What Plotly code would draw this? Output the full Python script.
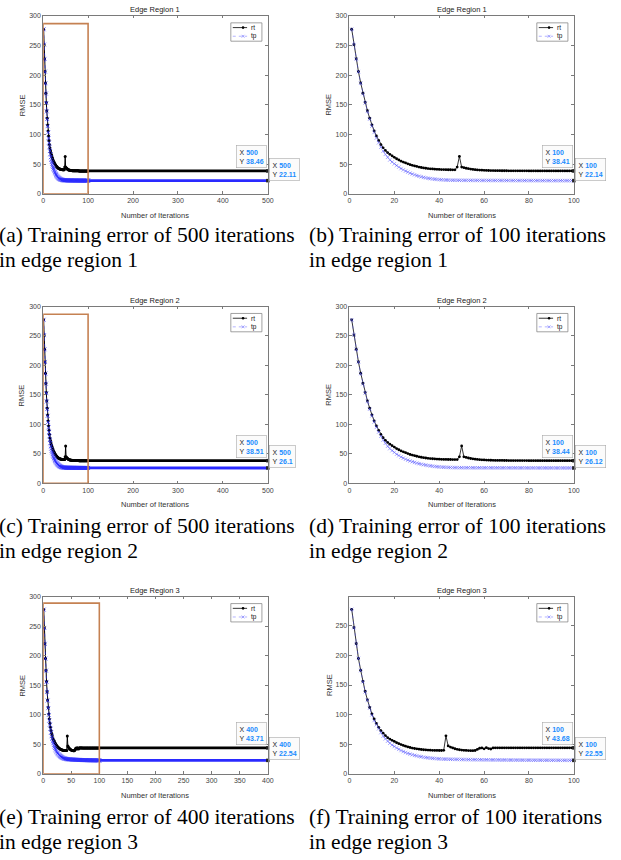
import plotly.graph_objects as go

W, H = 621, 860

# ---------------- data ----------------
iters_100 = list(range(1, 101))
tail_iters_500 = [100, 150, 200, 250, 300, 350, 400, 450, 500]
tail_iters_400 = [100, 150, 200, 250, 300, 350, 400]

rt_region1 = [277.5, 251.5, 227.5, 206.0, 187.0, 169.5, 154.0, 140.0, 127.5, 116.0,
              106.0, 97.5, 90.0, 83.0, 77.5, 73.0, 69.5, 66.5, 64.0, 61.5,
              59.0, 57.0, 55.0, 53.5, 52.0, 50.5, 49.0, 48.0, 47.0, 46.0,
              45.0, 44.3, 43.6, 43.0, 42.5, 42.1, 41.8, 41.5, 41.2, 41.0,
              40.8, 40.7, 40.6, 40.5, 40.5, 40.4, 40.4, 45.0, 63.0, 45.0,
              44.0, 43.0, 42.2, 41.6, 41.0, 40.6, 40.2, 39.9, 39.7, 39.5,
              39.3, 39.2, 39.1, 39.0, 38.95, 38.9, 38.85, 38.8, 38.78, 38.75,
              38.72, 38.7, 38.68, 38.66, 38.64, 38.62, 38.6, 38.59, 38.58, 38.57,
              38.56, 38.55, 38.54, 38.53, 38.52, 38.51, 38.5, 38.49, 38.48, 38.47,
              38.46, 38.46, 38.45, 38.45, 38.44, 38.44, 38.43, 38.42, 38.42, 38.41]
tp_region1 = [277.5, 251.5, 227.5, 206.0, 186.5, 169.0, 153.0, 139.0, 126.0, 114.0,
              103.5, 94.0, 86.0, 78.5, 72.0, 66.5, 61.5, 57.0, 53.5, 50.5,
              47.5, 45.0, 42.5, 40.3, 38.3, 36.5, 34.8, 33.3, 31.9, 30.6,
              29.5, 28.5, 27.6, 26.8, 26.1, 25.5, 25.0, 24.6, 24.2, 23.9,
              23.6, 23.4, 23.2, 23.0, 22.9, 22.8, 22.75, 22.7, 22.65, 22.6,
              22.58, 22.56, 22.54, 22.52, 22.5, 22.48, 22.46, 22.45, 22.44, 22.43,
              22.42, 22.41, 22.4, 22.39, 22.38, 22.37, 22.36, 22.35, 22.34, 22.33,
              22.32, 22.31, 22.3, 22.29, 22.28, 22.27, 22.26, 22.25, 22.25, 22.24,
              22.23, 22.22, 22.22, 22.21, 22.2, 22.2, 22.19, 22.19, 22.18, 22.18,
              22.17, 22.17, 22.16, 22.16, 22.15, 22.15, 22.15, 22.14, 22.14, 22.14]
rt_region1_tail = [38.41, 38.43, 38.44, 38.45, 38.45, 38.46, 38.46, 38.46, 38.46]
tp_region1_tail = [22.14, 22.13, 22.12, 22.12, 22.11, 22.11, 22.11, 22.11, 22.11]

rt_region2 = [277.5, 251.5, 227.5, 206.0, 187.0, 169.5, 154.0, 140.0, 127.5, 116.0,
              106.0, 97.5, 90.0, 83.0, 77.5, 73.0, 69.5, 66.5, 64.0, 61.5,
              59.0, 57.0, 55.0, 53.5, 52.0, 50.5, 49.0, 48.0, 47.0, 46.0,
              45.0, 44.3, 43.6, 43.0, 42.5, 42.1, 41.8, 41.5, 41.2, 41.0,
              40.8, 40.7, 40.6, 40.5, 40.5, 40.4, 40.4, 40.4, 45.0, 63.5,
              45.0, 44.0, 43.0, 42.2, 41.6, 41.0, 40.6, 40.2, 39.9, 39.7,
              39.5, 39.3, 39.2, 39.1, 39.0, 38.95, 38.9, 38.85, 38.8, 38.78,
              38.75, 38.72, 38.7, 38.68, 38.66, 38.64, 38.62, 38.6, 38.59, 38.58,
              38.57, 38.56, 38.55, 38.54, 38.53, 38.52, 38.51, 38.5, 38.49, 38.48,
              38.48, 38.47, 38.47, 38.46, 38.46, 38.45, 38.45, 38.45, 38.44, 38.44]
tp_region2 = [277.5, 251.5, 227.5, 206.0, 186.5, 169.0, 153.0, 139.0, 126.0, 114.5,
              104.0, 95.0, 87.0, 80.0, 73.5, 68.0, 63.0, 59.0, 55.5, 52.5,
              49.5, 47.0, 44.8, 42.8, 41.0, 39.4, 38.0, 36.7, 35.5, 34.4,
              33.4, 32.5, 31.7, 31.0, 30.3, 29.7, 29.2, 28.7, 28.3, 27.9,
              27.6, 27.4, 27.2, 27.0, 26.9, 26.8, 26.75, 26.7, 26.65, 26.6,
              26.58, 26.56, 26.54, 26.52, 26.5, 26.48, 26.46, 26.45, 26.44, 26.43,
              26.42, 26.41, 26.4, 26.39, 26.38, 26.37, 26.36, 26.35, 26.34, 26.33,
              26.32, 26.31, 26.3, 26.29, 26.28, 26.27, 26.26, 26.25, 26.24, 26.23,
              26.22, 26.21, 26.2, 26.2, 26.19, 26.18, 26.18, 26.17, 26.17, 26.16,
              26.16, 26.15, 26.15, 26.14, 26.14, 26.13, 26.13, 26.13, 26.12, 26.12]
rt_region2_tail = [38.44, 38.47, 38.49, 38.5, 38.5, 38.51, 38.51, 38.51, 38.51]
tp_region2_tail = [26.12, 26.11, 26.11, 26.1, 26.1, 26.1, 26.1, 26.1, 26.1]

rt_region3 = [278.0, 247.0, 220.0, 195.0, 175.0, 156.0, 139.0, 125.0, 112.0, 101.0,
              92.5, 85.0, 78.5, 73.0, 68.5, 64.5, 61.0, 58.5, 56.5, 54.5,
              52.5, 50.8, 49.2, 47.8, 46.5, 45.3, 44.3, 43.4, 42.6, 42.0,
              41.4, 40.9, 40.5, 40.2, 39.9, 39.7, 39.5, 39.4, 39.3, 39.2,
              39.2, 39.5, 64.0, 47.0, 45.0, 43.5, 42.2, 41.2, 40.5, 40.0,
              39.6, 39.3, 39.1, 39.0, 38.9, 39.2, 41.0, 43.0, 43.5, 42.0,
              44.0, 42.5, 41.8, 43.5, 43.8, 43.7, 43.7, 43.75, 43.7, 43.7,
              43.7, 43.72, 43.7, 43.7, 43.7, 43.7, 43.69, 43.7, 43.7, 43.7,
              43.69, 43.69, 43.7, 43.69, 43.69, 43.69, 43.68, 43.69, 43.68, 43.68,
              43.68, 43.68, 43.68, 43.68, 43.68, 43.68, 43.68, 43.68, 43.68, 43.68]
tp_region3 = [278.0, 247.0, 220.0, 195.0, 174.5, 155.5, 138.5, 124.0, 111.0, 99.5,
              90.0, 83.0, 76.0, 69.5, 63.5, 59.0, 55.0, 51.5, 48.5, 46.0,
              43.5, 41.2, 39.2, 37.4, 35.8, 34.4, 33.1, 32.0, 31.0, 30.1,
              29.3, 28.6, 27.9, 27.3, 26.8, 26.4, 26.0, 25.7, 25.4, 25.1,
              24.9, 24.7, 24.6, 24.5, 24.4, 24.3, 24.25, 24.2, 24.1, 24.0,
              23.95, 23.9, 23.85, 23.8, 23.75, 23.7, 23.65, 23.6, 23.55, 23.5,
              23.45, 23.4, 23.36, 23.32, 23.28, 23.24, 23.2, 23.17, 23.14, 23.11,
              23.08, 23.05, 23.02, 23.0, 22.97, 22.95, 22.93, 22.9, 22.88, 22.86,
              22.84, 22.82, 22.8, 22.78, 22.76, 22.74, 22.72, 22.7, 22.69, 22.67,
              22.66, 22.64, 22.63, 22.62, 22.61, 22.6, 22.58, 22.57, 22.56, 22.55]
rt_region3_tail = [43.68, 43.69, 43.7, 43.7, 43.71, 43.71, 43.71]
tp_region3_tail = [22.55, 22.55, 22.54, 22.54, 22.54, 22.54, 22.54]

series_names = ["rt", "tp"]
titles = ["Edge Region 1", "Edge Region 1", "Edge Region 2",
          "Edge Region 2", "Edge Region 3", "Edge Region 3"]
captions = [("(a) Training error of 500 iterations", "in edge region 1"),
            ("(b) Training error of 100 iterations", "in edge region 1"),
            ("(c) Training error of 500 iterations", "in edge region 2"),
            ("(d) Training error of 100 iterations", "in edge region 2"),
            ("(e) Training error of 400 iterations", "in edge region 3"),
            ("(f) Training error of 100 iterations", "in edge region 3")]
x_label = "Number of Iterations"
y_label = "RMSE"
x_max = [500, 100, 500, 100, 400, 100]
x_step = [100, 20, 100, 20, 50, 20]
y_max = [300, 300, 300, 300, 300, 299.5]
highlight_range = [(0, 100, 287), None, (0, 100, 287), None, (0, 100, 289), None]

panels = [
    (rt_region1, tp_region1, tail_iters_500, rt_region1_tail, tp_region1_tail),
    (rt_region1, tp_region1, None, None, None),
    (rt_region2, tp_region2, tail_iters_500, rt_region2_tail, tp_region2_tail),
    (rt_region2, tp_region2, None, None, None),
    (rt_region3, tp_region3, tail_iters_400, rt_region3_tail, tp_region3_tail),
    (rt_region3, tp_region3, None, None, None),
]

# ---------------- layout geometry (pixels) ----------------
col_x = [(41.7, 269.3), (352.0, 579.3)]
row_y = [(12.0, 191.3), (305.0, 483.3), (597.5, 776.0)]
row_pitch = 293.0


def px(x):
    return x / W


def py(y):
    return 1 - y / H


AX_FONT = "Liberation Sans, Arial, sans-serif"
SERIF = "Liberation Serif, Times New Roman, serif"
TIP_BLUE = "#1a8cff"
TP_LIGHT = "rgba(80,80,255,0.55)"
TP_STRONG = "#2a2aff"
BOX_COLOR = "#c58152"
CAP_SIZE = 21.5
CAP_LINE = 24.5

fig = go.Figure()
annotations = []
shapes = []
layout_axes = {}

for i, (rt, tp, tail_x, rt_tail, tp_tail) in enumerate(panels):
    r, c = divmod(i, 2)
    sfx = "" if i == 0 else str(i + 1)
    xa, ya = "x" + sfx, "y" + sfx
    xl, xr = col_x[c]
    yt, yb = row_y[r]

    big = tail_x is not None
    # rt series
    fig.add_trace(go.Scatter(
        x=iters_100, y=rt, xaxis=xa, yaxis=ya, mode="lines+markers",
        line=dict(color="black", width=1.0 if big else 0.8),
        marker=dict(symbol="circle", size=3.0 if big else 2.8, color="black"),
        name=series_names[0], showlegend=False, hoverinfo="skip"))
    if big:
        fig.add_trace(go.Scatter(
            x=tail_x, y=rt_tail, xaxis=xa, yaxis=ya, mode="lines",
            line=dict(color="black", width=2.8), showlegend=False, hoverinfo="skip"))
    # tp series
    tp_col = "rgba(40,40,255,0.7)" if big else TP_LIGHT
    fig.add_trace(go.Scatter(
        x=iters_100, y=tp, xaxis=xa, yaxis=ya, mode="lines+markers",
        line=dict(color=tp_col, width=0.8, dash="dot"),
        marker=dict(symbol="x-thin", size=4 if big else 3.5, line=dict(width=0.9, color=tp_col)),
        name=series_names[1], showlegend=False, hoverinfo="skip"))
    if big:
        fig.add_trace(go.Scatter(
            x=tail_x, y=tp_tail, xaxis=xa, yaxis=ya, mode="lines",
            line=dict(color=TP_STRONG, width=2.8), showlegend=False, hoverinfo="skip"))

    end_x = tail_x[-1] if big else iters_100[-1]
    end_rt = rt_tail[-1] if big else rt[-1]
    end_tp = tp_tail[-1] if big else tp[-1]
    fig.add_trace(go.Scatter(
        x=[end_x, end_x], y=[end_rt, end_tp], xaxis=xa, yaxis=ya, mode="markers",
        marker=dict(symbol="square", size=3.5, color="#222"),
        showlegend=False, hoverinfo="skip", cliponaxis=False))

    axis_common = dict(
        showline=True, linecolor="#7a7a7a", linewidth=0.7, mirror="ticks",
        ticks="inside", ticklen=2.5, tickwidth=0.7, tickcolor="#7a7a7a",
        showgrid=False, zeroline=False, tick0=0,
        tickfont=dict(family=AX_FONT, size=7, color="#444"),
    )
    layout_axes["xaxis" + sfx] = dict(
        axis_common, domain=[px(xl), px(xr)], range=[0, x_max[i]],
        dtick=x_step[i], anchor=ya)
    layout_axes["yaxis" + sfx] = dict(
        axis_common, domain=[py(yb), py(yt)], range=[0, y_max[i]],
        dtick=50, anchor=xa)

    # highlight rectangle
    if highlight_range[i] is not None:
        hx0, hx1, hy1 = highlight_range[i]
        shapes.append(dict(type="rect", xref=xa, yref=ya, x0=hx0, x1=hx1, y0=0, y1=hy1,
                           line=dict(color=BOX_COLOR, width=1.6), layer="above"))

    # title / labels
    annotations.append(dict(xref="paper", yref="paper", x=px((xl + xr) / 2), y=py(yt - 6),
                            text=titles[i], showarrow=False, xanchor="center", yanchor="middle",
                            font=dict(family=AX_FONT, size=7.5, color="#222")))
    annotations.append(dict(xref="paper", yref="paper", x=px((xl + xr) / 2), y=py(yb + 21.5),
                            text=x_label, showarrow=False, xanchor="center", yanchor="middle",
                            font=dict(family=AX_FONT, size=7.5, color="#333")))
    annotations.append(dict(xref="paper", yref="paper", x=px(xl - 21), y=py((yt + yb) / 2),
                            text=y_label, showarrow=False, textangle=-90,
                            xanchor="center", yanchor="middle",
                            font=dict(family=AX_FONT, size=7.5, color="#333")))

    # data tips
    def tip_text(xv, yv):
        return ("X <b><span style='color:%s'>%g</span></b><br>Y <b><span style='color:%s'>%g</span></b>"
                % (TIP_BLUE, xv, TIP_BLUE, yv))

    annotations.append(dict(xref=xa, yref=ya, x=end_x, y=end_rt, text=tip_text(end_x, end_rt),
                            showarrow=False, xanchor="right", yanchor="bottom", xshift=-1, yshift=3,
                            align="left", bgcolor="#fbfbfb", bordercolor="#a8a8a8",
                            borderwidth=0.6, borderpad=3,
                            font=dict(family=AX_FONT, size=7, color="#222")))
    annotations.append(dict(xref=xa, yref=ya, x=end_x, y=end_tp, text=tip_text(end_x, end_tp),
                            showarrow=False, xanchor="left", yanchor="bottom", xshift=1, yshift=0,
                            align="left", bgcolor="#fbfbfb", bordercolor="#a8a8a8",
                            borderwidth=0.6, borderpad=3,
                            font=dict(family=AX_FONT, size=7, color="#222")))

    # legend (drawn compactly, MATLAB style)
    bx0, bx1 = xr - 37.5, xr - 6
    by0, by1 = yt + 7, yt + 25.5
    shapes.append(dict(type="rect", xref="paper", yref="paper", x0=px(bx0), x1=px(bx1),
                       y0=py(by1), y1=py(by0), line=dict(color="#7a7a7a", width=0.7),
                       fillcolor="white", layer="above"))
    rows_y = [yt + 11.8, yt + 20.5]
    for k, name in enumerate(series_names):
        ly = rows_y[k]
        if k == 0:
            shapes.append(dict(type="line", xref="paper", yref="paper", x0=px(bx0 + 2), x1=px(bx0 + 16.5),
                               y0=py(ly), y1=py(ly), line=dict(color="black", width=0.8), layer="above"))
            shapes.append(dict(type="circle", xref="paper", yref="paper",
                               x0=px(bx0 + 12.4 - 1.3), x1=px(bx0 + 12.4 + 1.3),
                               y0=py(ly + 1.3), y1=py(ly - 1.3), fillcolor="black",
                               line=dict(color="black", width=0), layer="above"))
        else:
            shapes.append(dict(type="line", xref="paper", yref="paper", x0=px(bx0 + 2), x1=px(bx0 + 16.5),
                               y0=py(ly), y1=py(ly), line=dict(color=TP_LIGHT, width=0.8, dash="dot"),
                               layer="above"))
            for s in (-1, 1):
                shapes.append(dict(type="line", xref="paper", yref="paper",
                                   x0=px(bx0 + 12.4 - 1.4), x1=px(bx0 + 12.4 + 1.4),
                                   y0=py(ly - 1.4 * s), y1=py(ly + 1.4 * s),
                                   line=dict(color="rgba(80,80,255,0.8)", width=0.7), layer="above"))
        annotations.append(dict(xref="paper", yref="paper", x=px(bx0 + 18.5), y=py(ly),
                                text=name, showarrow=False, xanchor="left", yanchor="middle",
                                font=dict(family=AX_FONT, size=6.5, color="#111")))

    # caption (two lines); the left column is cropped at the page edge as in the reference
    cap_x = -5.0 if c == 0 else 309
    cap_text = "<br>".join("<span style='font-size:%.1fpx'>%s</span>" % (CAP_SIZE, s)
                           for s in captions[i])
    annotations.append(dict(xref="paper", yref="paper", x=px(cap_x),
                            y=py(232 + r * row_pitch - 0.6 * CAP_SIZE),
                            text=cap_text, showarrow=False, xanchor="left", yanchor="top",
                            align="left",
                            font=dict(family=SERIF, size=CAP_LINE / 1.3, color="black")))

fig.update_layout(
    width=W, height=H, margin=dict(l=0, r=0, t=0, b=0, pad=0),
    paper_bgcolor="white", plot_bgcolor="white", showlegend=False,
    annotations=annotations, shapes=shapes, **layout_axes)

fig.write_html("out.html", config={"displayModeBar": False},
               post_script="document.body.style.margin='0';")
